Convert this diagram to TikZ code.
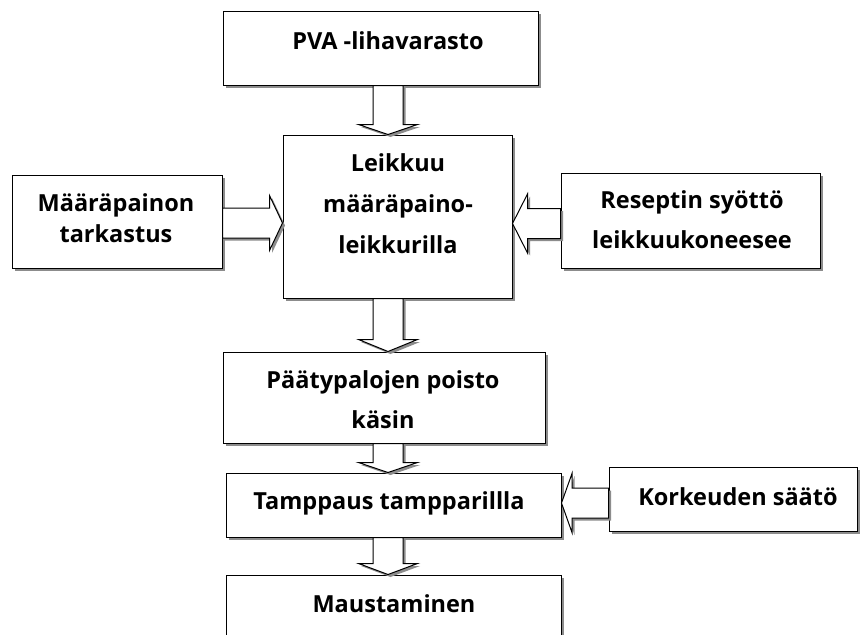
\documentclass[tikz,border=0pt]{standalone}
\usepackage{fontspec}
\setmainfont{Open Sans}
\usetikzlibrary{calc,shadows}
\tikzset{
  shadowed/.style={drop shadow={shadow xshift=2.5pt, shadow yshift=-2.5pt, fill=black!45, opacity=1}},
  box/.style={draw, line width=1pt, fill=white, inner sep=0pt, shadowed},
  blockarrow/.style={draw, line width=1pt, fill=white, line join=miter, shadowed},
  lbl/.style={anchor=base, inner sep=0pt, font=\bfseries\fontsize{23.5}{28}\selectfont}
}
% down block arrow: #1 x centre (pt), #2 from node, #3 to node, #4 head length
\newcommand\downblock[4]{%
  \path[blockarrow] let \p1=(#2.south), \p2=(#3.north) in
    (#1pt-15pt,\y1) -- (#1pt+15pt,\y1) -- (#1pt+15pt,\y2+#4pt) -- (#1pt+29.5pt,\y2+#4pt)
    -- (#1pt,\y2) -- (#1pt-29.5pt,\y2+#4pt) -- (#1pt-15pt,\y2+#4pt) -- cycle;}
% right-pointing block arrow: #1 y centre (image px), #2 from, #3 to, #4 head length, #5 head half height
\newcommand\rightblock[5]{%
  \path[blockarrow] let \p1=(#2.east), \p2=(#3.west) in
    (\x1,-#1pt+15pt) -- (\x2-#4pt,-#1pt+15pt) -- (\x2-#4pt,-#1pt+#5pt) -- (\x2,-#1pt)
    -- (\x2-#4pt,-#1pt-#5pt) -- (\x2-#4pt,-#1pt-15pt) -- (\x1,-#1pt-15pt) -- cycle;}
% left-pointing block arrow
\newcommand\leftblock[5]{%
  \path[blockarrow] let \p1=(#2.west), \p2=(#3.east) in
    (\x1,-#1pt+15pt) -- (\x2+#4pt,-#1pt+15pt) -- (\x2+#4pt,-#1pt+#5pt) -- (\x2,-#1pt)
    -- (\x2+#4pt,-#1pt-#5pt) -- (\x2+#4pt,-#1pt-15pt) -- (\x1,-#1pt-15pt) -- cycle;}
\begin{document}
\begin{tikzpicture}[x=1pt,y=-1pt]
\useasboundingbox[fill=white] (0,0) rectangle (861,634);
% boxes
\node[box, minimum width=315pt, minimum height=73pt]  (pva)   at (380.5,48.5) {};
\node[box, minimum width=229pt, minimum height=163pt] (cut)   at (397.5,216.5) {};
\node[box, minimum width=210pt, minimum height=93pt]  (tark)  at (117,221.5) {};
\node[box, minimum width=259pt, minimum height=95pt]  (resep) at (690.5,220.5) {};
\node[box, minimum width=322pt, minimum height=91pt]  (pat)   at (384,397.5) {};
\node[box, minimum width=335pt, minimum height=64pt]  (tamp)  at (393.5,505) {};
\node[box, minimum width=248pt, minimum height=64pt]  (kork)  at (733,499) {};
\node[box, minimum width=335pt, minimum height=85pt]  (maus)  at (393.5,617.5) {};
% block arrows
\downblock{388}{pva}{cut}{10}
\downblock{388}{cut}{pat}{12}
\downblock{388}{pat}{tamp}{10}
\downblock{388}{tamp}{maus}{11}
\rightblock{223}{tark}{cut}{13}{27.5}
\leftblock{223.5}{resep}{cut}{15}{29.5}
\leftblock{503}{kork}{tamp}{10.5}{29.5}
% texts
\node[lbl] (tpva)  at (388,50)  {PVA -lihavarasto};
\node[lbl] (tcut1) at (398,171) {Leikkuu};
\node[lbl] (tcut2) at (398,212) {määräpaino-};
\node[lbl] (tcut3) at (398,253) {leikkurilla};
\node[lbl] (ttar1) at (116,211) {Määräpainon};
\node[lbl] (ttar2) at (116,242) {tarkastus};
\node[lbl] (tres1) at (692,208) {Reseptin syöttö};
\node[lbl] (tres2) at (692,248) {leikkuukoneesee};
\node[lbl] (tpat1) at (383,388) {Päätypalojen poisto};
\node[lbl] (tpat2) at (383,428) {käsin};
\node[lbl] (ttamp) at (389,509) {Tamppaus tampparillla};
\node[lbl] (tkork) at (738,505) {Korkeuden säätö};
\node[lbl] (tmaus) at (394,612) {Maustaminen};
\end{tikzpicture}
\end{document}
